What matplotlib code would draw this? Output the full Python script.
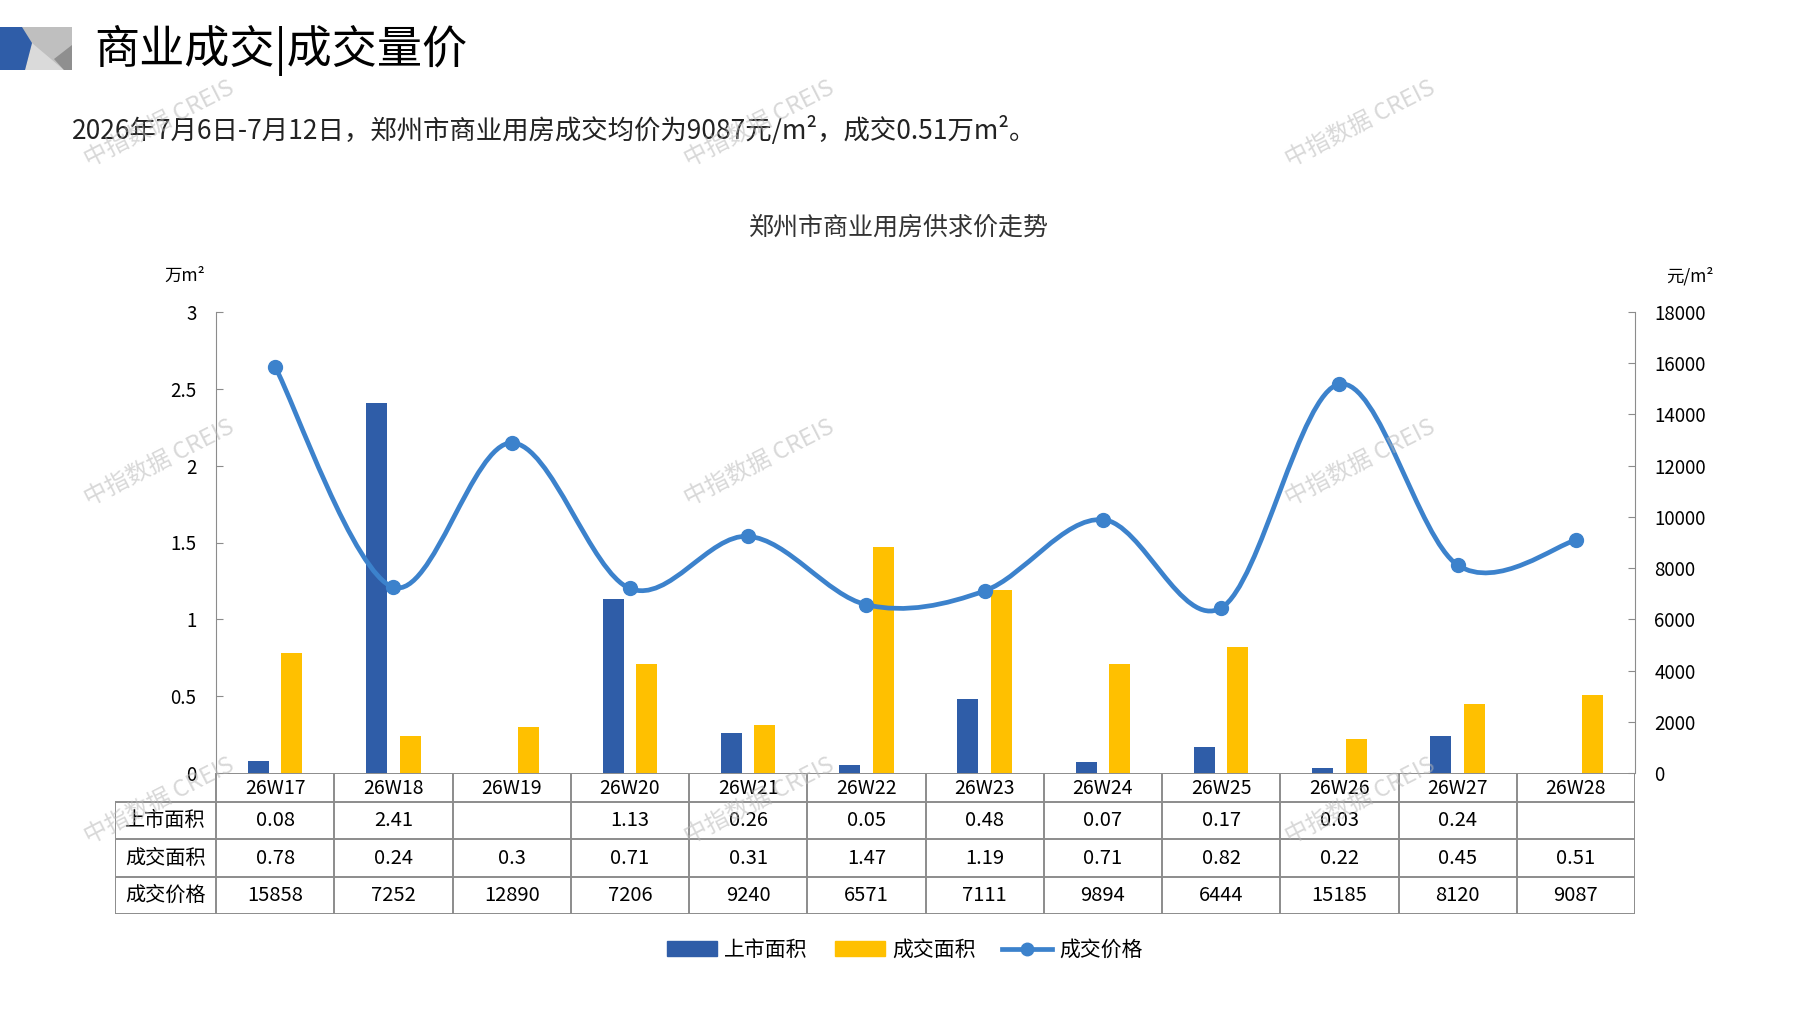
import matplotlib
matplotlib.use("Agg")
import matplotlib.pyplot as plt
from matplotlib.path import Path
from matplotlib.patches import PathPatch, Polygon, Patch
from matplotlib.lines import Line2D

plt.rcParams['font.family'] = ['Noto Sans CJK SC', 'DejaVu Sans']

weeks = ['26W17', '26W18', '26W19', '26W20', '26W21', '26W22',
         '26W23', '26W24', '26W25', '26W26', '26W27', '26W28']
listed = [0.08, 2.41, None, 1.13, 0.26, 0.05, 0.48, 0.07, 0.17, 0.03, 0.24, None]
sold = [0.78, 0.24, 0.3, 0.71, 0.31, 1.47, 1.19, 0.71, 0.82, 0.22, 0.45, 0.51]
price = [15858, 7252, 12890, 7206, 9240, 6571, 7111, 9894, 6444, 15185, 8120, 9087]
row_names = ['上市面积', '成交面积', '成交价格']

BLUE = '#2F5DA8'
YELLOW = '#FFC000'
LINE = '#3C82CC'
GRID = '#8C8C8C'
W, H = 1797, 1010

fig = plt.figure(figsize=(W / 100, H / 100), dpi=100)


def fx(px):
    return px / W


def fy(py):
    return 1 - py / H


# header logo + titles
logo = fig.add_axes([0, 0, 1, 1], zorder=-5)
logo.set_xlim(0, W)
logo.set_ylim(H, 0)
logo.axis('off')
logo.add_patch(Polygon([(0, 27), (72, 27), (72, 70), (0, 70)], color='#bfbfbf', lw=0))
logo.add_patch(Polygon([(32, 43), (25, 70), (64, 70)], color='#dadada', lw=0))
logo.add_patch(Polygon([(72, 45), (72, 70), (64, 70), (54, 59)], color='#8f8f8f', lw=0))
logo.add_patch(Polygon([(0, 27), (22, 27), (32, 43), (25, 70), (0, 70)], color=BLUE, lw=0))

fig.text(fx(94), fy(50), '商业成交|成交量价', fontsize=32.5, va='center', ha='left')
fig.text(fx(72), fy(131), '2026年7月6日-7月12日，郑州市商业用房成交均价为9087元/m²，成交0.51万m²。',
         fontsize=19, va='center', ha='left', color='#222222')
fig.text(fx(899), fy(228), '郑州市商业用房供求价走势', fontsize=18, va='center', ha='center',
         color='#333333')
fig.text(fx(185), fy(276), '万m²', fontsize=12.5, va='center', ha='center')
fig.text(fx(1690), fy(276), '元/m²', fontsize=12.5, va='center', ha='center')

# main chart
x0, x1, ytop, y0 = 216, 1635, 312, 773
ax = fig.add_axes([fx(x0), fy(y0), (x1 - x0) / W, (y0 - ytop) / H])
ax2 = ax.twinx()
n = len(weeks)
xs = list(range(n))
bw = 0.178
off = 0.142
ax.bar([i - off for i in xs if listed[i] is not None],
       [v for v in listed if v is not None], width=bw, color=BLUE, zorder=2)
ax.bar([i + off for i in xs], sold, width=bw, color=YELLOW, zorder=2)
ax.set_xlim(-0.5, n - 0.5)
ax.set_ylim(0, 3)
ax.set_yticks([0, 0.5, 1, 1.5, 2, 2.5, 3])
ax.set_yticklabels(['0', '0.5', '1', '1.5', '2', '2.5', '3'])
ax2.set_ylim(0, 18000)
ax2.set_yticks(range(0, 18001, 2000))
for a in (ax, ax2):
    for s in ('top', 'bottom'):
        a.spines[s].set_visible(False)
    a.spines['left'].set_color(GRID)
    a.spines['right'].set_color(GRID)
    a.tick_params(axis='y', direction='in', length=5, color=GRID, labelsize=13.5, pad=14)
    a.set_xticks([])
ax.spines['right'].set_visible(False)
ax2.spines['left'].set_visible(False)

# smoothed price line (Bezier through every point)
pts = list(zip(xs, price))
verts = [pts[0]]
codes = [Path.MOVETO]
for i in range(n - 1):
    p0 = pts[max(i - 1, 0)]
    p1 = pts[i]
    p2 = pts[i + 1]
    p3 = pts[min(i + 2, n - 1)]
    c1 = (p1[0] + (p2[0] - p0[0]) / 6, p1[1] + (p2[1] - p0[1]) / 6)
    c2 = (p2[0] - (p3[0] - p1[0]) / 6, p2[1] - (p3[1] - p1[1]) / 6)
    verts += [c1, c2, p2]
    codes += [Path.CURVE4] * 3
ax2.add_patch(PathPatch(Path(verts, codes), fill=False, edgecolor=LINE, lw=3.4,
                        capstyle='round', zorder=3))
ax2.plot(xs, price, 'o', color=LINE, ms=10, zorder=4)

# data table under the chart
tl = 115
ty = [773, 802, 839, 877, 914]
tab = fig.add_axes([fx(tl), fy(ty[-1]), (x1 - tl) / W, (ty[-1] - ty[0]) / H])
xl = -0.5 - (x0 - tl) / ((x1 - x0) / n)
tab.set_xlim(xl, n - 0.5)
tab.set_ylim(ty[-1], ty[0])
tab.axis('off')
lk = dict(color=GRID, lw=1.4, solid_capstyle='butt')
tab.plot([-0.5, n - 0.5], [ty[0], ty[0]], **lk)
for yy in ty[1:]:
    tab.plot([xl, n - 0.5], [yy, yy], **lk)
for i in range(n + 1):
    tab.plot([i - 0.5, i - 0.5], [ty[0], ty[-1]], **lk)
tab.plot([xl, xl], [ty[1], ty[-1]], **lk)

rows = [[('' if v is None else str(v)) for v in listed],
        [str(v) for v in sold],
        [str(v) for v in price]]
for i, w in enumerate(weeks):
    tab.text(i, (ty[0] + ty[1]) / 2 + 1, w, ha='center', va='center', fontsize=14)
for r, (name, vals) in enumerate(zip(row_names, rows)):
    yc = (ty[r + 1] + ty[r + 2]) / 2
    tab.text((xl - 0.5) / 2, yc, name, ha='center', va='center', fontsize=14.5)
    for i, v in enumerate(vals):
        tab.text(i, yc, v, ha='center', va='center', fontsize=14.5)

# legend
handles = [Patch(color=BLUE, label='上市面积'),
           Patch(color=YELLOW, label='成交面积'),
           Line2D([], [], color=LINE, lw=3.4, marker='o', ms=9, label='成交价格')]
fig.legend(handles=handles, loc='center', ncol=3, frameon=False, fontsize=15,
           bbox_to_anchor=(fx(905), fy(950)), handlelength=2.4, handletextpad=0.35,
           columnspacing=1.3)

# watermarks
for wx in (159, 759, 1360):
    for wy in (124, 463, 801):
        fig.text(fx(wx), fy(wy), '中指数据 CREIS', rotation=27, ha='center', va='center',
                 fontsize=17, color='#b8b8b8', alpha=0.55, zorder=10)

fig.savefig('out.png', dpi=100)
